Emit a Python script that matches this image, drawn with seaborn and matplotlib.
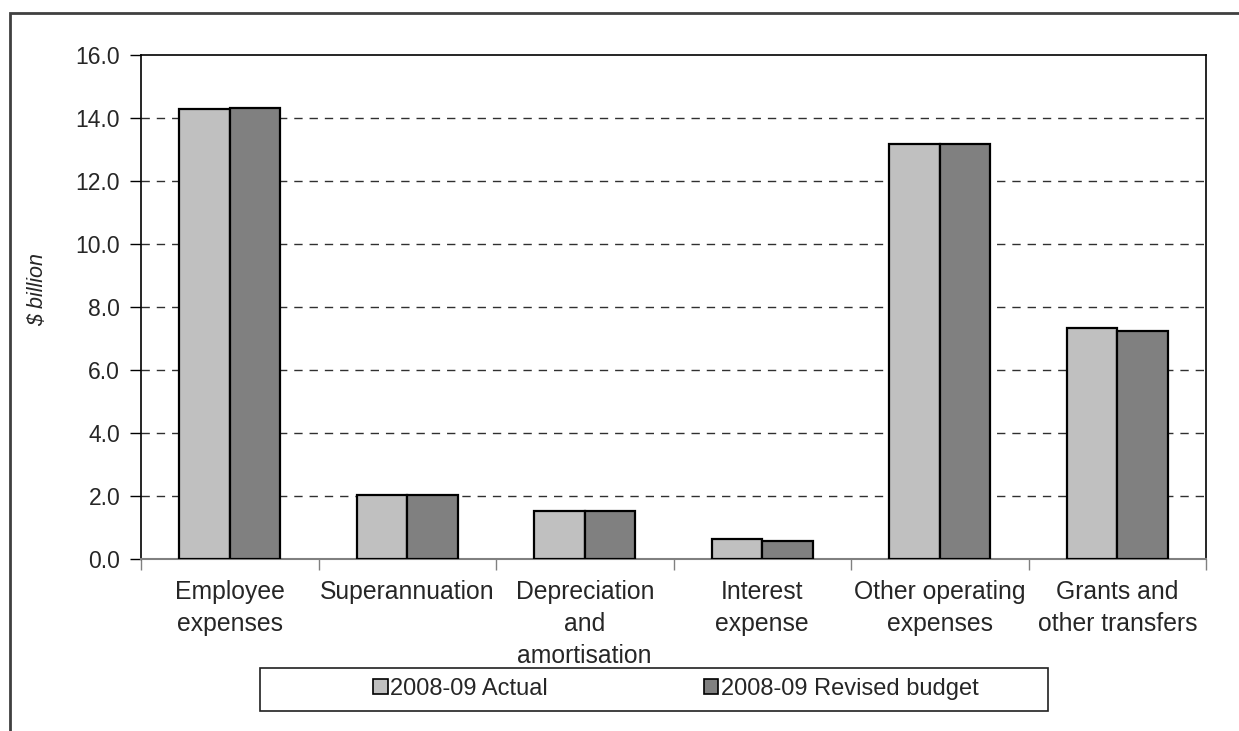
import matplotlib
matplotlib.use("Agg")
import matplotlib.pyplot as plt
import matplotlib.patches as mpatches
from matplotlib.ticker import FixedLocator, FormatStrFormatter
import numpy as np
import pandas as pd
import seaborn as sns

# Expense categories and the two series ($ billion)
categories = [
    "Employee\nexpenses",
    "Superannuation",
    "Depreciation\nand\namortisation",
    "Interest\nexpense",
    "Other operating\nexpenses",
    "Grants and\nother transfers",
]
actual_2008_09 = [14.28, 2.03, 1.53, 0.62, 13.17, 7.33]
revised_budget_2008_09 = [14.33, 2.03, 1.53, 0.57, 13.17, 7.24]
series_names = ["2008-09 Actual", "2008-09 Revised budget"]
y_ticks = [0.0, 2.0, 4.0, 6.0, 8.0, 10.0, 12.0, 14.0, 16.0]

df = pd.DataFrame({
    "category": categories * 2,
    "series": [series_names[0]] * len(categories) + [series_names[1]] * len(categories),
    "value": actual_2008_09 + revised_budget_2008_09,
})

sns.set_theme(style="white")
plt.rcParams["font.family"] = ["Liberation Sans", "DejaVu Sans"]

W, H = 1239, 731
fig = plt.figure(figsize=(W / 100, H / 100), dpi=100)
ax = fig.add_axes([141 / W, 1 - 559 / H, (1206 - 141) / W, (559 - 55) / H])

palette = {series_names[0]: "#C0C0C0", series_names[1]: "#808080"}
sns.barplot(
    data=df, x="category", y="value", hue="series", order=categories,
    hue_order=series_names, palette=palette, width=0.571, gap=0,
    edgecolor="black", linewidth=1.6, saturation=1, legend=False, ax=ax,
    zorder=3,
)

ax.set_xlim(-0.5, len(categories) - 0.5)
ax.set_ylim(0, 16)

# y axis
ax.yaxis.set_major_locator(FixedLocator(y_ticks))
ax.yaxis.set_major_formatter(FormatStrFormatter("%.1f"))
ax.tick_params(axis="y", which="major", direction="out", length=8, width=1,
               color="black", pad=7, labelsize=16.5, left=True)
for g in y_ticks[1:-1]:
    ax.axhline(g, color="#303030", linewidth=1, linestyle=(0, (6, 5)), zorder=1)

# x axis: labels at centres, tick marks at category boundaries
ax.set_xticks(range(len(categories)))
ax.set_xticklabels(categories, fontsize=17.8, linespacing=1.42, ha="center",
                   multialignment="center")
ax.tick_params(axis="x", which="major", length=0, pad=15)
ax.xaxis.set_minor_locator(FixedLocator(np.arange(-0.5, len(categories), 1.0)))
ax.tick_params(axis="x", which="minor", direction="out", length=8, width=1,
               color="#808080", bottom=True)

ax.set_xlabel("")
ax.set_ylabel("$ billion", fontsize=15.5, style="italic")
ax.yaxis.set_label_coords(-0.087, 0.535)

for side in ["top", "right", "left"]:
    ax.spines[side].set_visible(True)
    ax.spines[side].set_color("black")
    ax.spines[side].set_linewidth(1.2)
ax.spines["bottom"].set_color("#808080")
ax.spines["bottom"].set_linewidth(1.5)

# Legend with its own frame
handles = [mpatches.Patch(facecolor=palette[s], edgecolor="black", linewidth=1.2)
           for s in series_names]
fig.legend(handles, series_names, loc="center",
           bbox_to_anchor=(676 / W, 1 - 689 / H), ncol=2, frameon=False,
           fontsize=17, handlelength=0.6, handleheight=0.6, handletextpad=0.12,
           columnspacing=6.6)
fig.patches.append(mpatches.Rectangle(
    (260 / W, 1 - 711 / H), (1048 - 260) / W, (711 - 668) / H,
    transform=fig.transFigure, facecolor="none", edgecolor="#202020",
    linewidth=1.2))

# Outer chart border (runs off the right and bottom edges)
fig.patches.append(mpatches.Rectangle(
    (10 / W, -0.2), 1.3, 1 - 13 / H + 0.2, transform=fig.transFigure,
    facecolor="none", edgecolor="#404040", linewidth=2))

fig.savefig("out.png", dpi=100)
